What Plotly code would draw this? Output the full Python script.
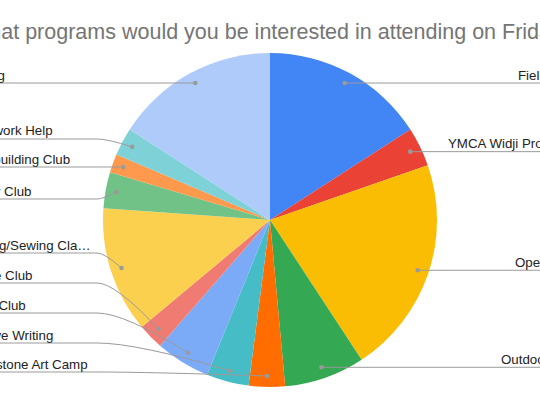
import math
import plotly.graph_objects as go

# survey answers (share of responses, %), clockwise from 12 o'clock
PROGRAMS = ["Field Trips", "YMCA Widji Programs", "Open Gym", "Outdoor Adventures",
            "Keystone Art Camp", "Creative Writing", "Chess Club", "Board Game Club",
            "Knitting/Sewing Class", "Photography Club", "Lego building Club",
            "Homework Help", "Cooking"]
LABEL_TEXT = ["Field Trips", "YMCA Widji Programs", "Open Gym", "Outdoor Adventures",
              "Keystone Art Camp", "Creative Writing", "Chess Club", "Board Game Club",
              "Knitting/Sewing Cla…", "Photography Club", "Lego building Club",
              "Homework Help", "Cooking"]
SHARE = [15.9, 3.8, 21.1, 7.8, 3.5, 4.1, 5.3, 2.5, 12.2, 3.5, 1.8, 2.7, 15.9]

COLORS = ["#4285F4", "#EA4335", "#FBBC04", "#34A853", "#FF6D01", "#46BDC6", "#7BAAF7",
          "#F07B72", "#FCD04F", "#71C287", "#FF994D", "#7ED1D7", "#AECBFA"]

TITLE = "What programs would you be interested in attending on Fridays?"

# layout (pixels of the 540x407 frame)
W, H = 540, 407
CX, CY, R = 270, 220, 167
DOT_R = 156
BEND_X = 97
# where the text sits: right side = start of text, left side = end of text
TEXT_X = [517, 446.5, 514, 500, 89, 54, 27.3, 33.3, 91.7, 32.3, 70.7, 54.3, 6]
# leader line level on the left (None -> straight from the dot)
LEFT_LEVEL = [None, None, None, None, 372, 343, 313, 283, 253, 199, 167, 139, None]

LINE_COL = "#9a9a9a"
FONT = "Liberation Sans, Arial, sans-serif"
TITLE_SIZE = 21.5

fig = go.Figure()
fig.add_trace(go.Pie(labels=PROGRAMS, values=SHARE, sort=False, direction="clockwise",
                     rotation=0, textinfo="none", hoverinfo="label+percent",
                     marker=dict(colors=COLORS, line=dict(width=0)),
                     domain=dict(x=[(CX - R) / W, (CX + R) / W],
                                 y=[(H - CY - R) / H, (H - CY + R) / H]),
                     showlegend=False))

shapes = []
annotations = []
total = sum(SHARE)
cum = 0
for i, v in enumerate(SHARE):
    mid = (cum + v / 2) / total * 2 * math.pi
    cum += v
    dx = CX + DOT_R * math.sin(mid)
    dy = CY - DOT_R * math.cos(mid)
    shapes.append(dict(type="circle", xref="x", yref="y", x0=dx - 2.3, x1=dx + 2.3,
                       y0=dy - 2.3, y1=dy + 2.3, fillcolor=LINE_COL,
                       line=dict(width=0), layer="above"))
    if math.sin(mid) > 0:
        ly = dy
        path = f"M {dx},{dy} L {W + 20},{dy}"
        anchor = "left"
    else:
        ly = LEFT_LEVEL[i] if LEFT_LEVEL[i] is not None else dy
        if LEFT_LEVEL[i] is None:
            path = f"M -20,{dy} L {dx},{dy}"
        else:
            cx1 = BEND_X + 0.3 * (dx - BEND_X)
            path = f"M -20,{ly} L {BEND_X},{ly} Q {cx1},{ly} {dx},{dy}"
        anchor = "right"
    shapes.append(dict(type="path", xref="x", yref="y", path=path,
                       line=dict(color=LINE_COL, width=1), layer="above"))
    annotations.append(dict(text=LABEL_TEXT[i], xref="paper", yref="paper",
                            x=TEXT_X[i] / W, y=1 - (ly - 8) / H,
                            xanchor=anchor, yanchor="middle", showarrow=False,
                            borderpad=0, font=dict(family=FONT, size=13.3, color="#222222")))

# the "Wh" of the title falls off the left edge, like in the cropped original
annotations.append(dict(text=TITLE, xref="paper", yref="paper", x=-1.5 * TITLE_SIZE / W,
                        y=1 - 32 / H, xanchor="left", yanchor="middle", showarrow=False,
                        borderpad=0, font=dict(family=FONT, size=TITLE_SIZE, color="#757575")))

fig.update_layout(width=W, height=H, margin=dict(l=0, r=0, t=0, b=0),
                  paper_bgcolor="white", plot_bgcolor="white",
                  xaxis=dict(range=[0, W], visible=False, fixedrange=True),
                  yaxis=dict(range=[H, 0], visible=False, fixedrange=True),
                  shapes=shapes, annotations=annotations, showlegend=False)

# the page body has a default 8px margin; drop it so the chart fills the window
fig.write_html("out.html", config={"displayModeBar": False},
               post_script="document.body.style.margin='0';")
